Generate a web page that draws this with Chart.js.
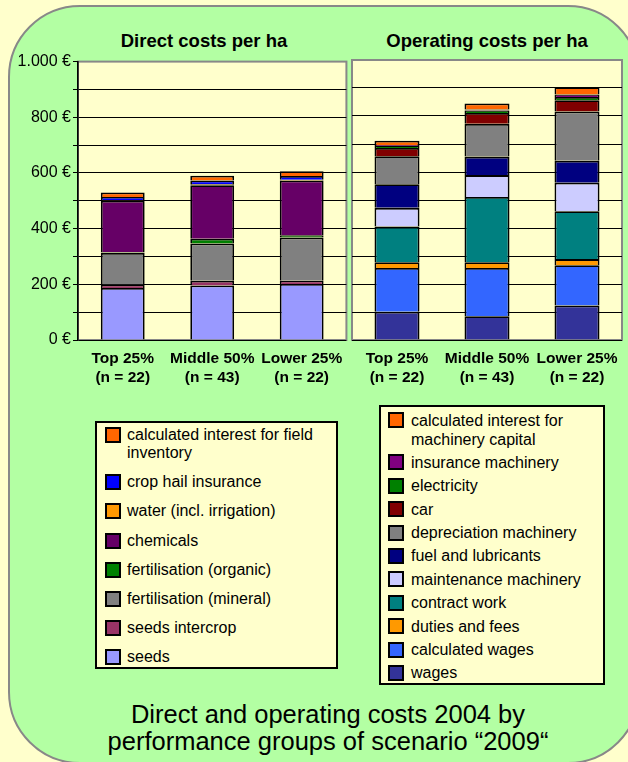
<!DOCTYPE html>
<html>
<head>
<meta charset="utf-8">
<script src="https://cdn.jsdelivr.net/npm/chart.js@4.4.0/dist/chart.umd.min.js"></script>
<style>
  body { margin: 0; background: #FFFFCC; width: 628px; height: 762px; overflow: hidden; position: relative;
         font-family: Arial, "Liberation Sans", sans-serif; }
  .panel { position: absolute; left: 8px; top: 5px; width: 628px; height: 755px; background: #B3FFA3;
           border: 2px solid #888; border-radius: 72px; }
  canvas { position: absolute; }
  .ctitle { position: absolute; font-weight: bold; font-size: 18.5px; line-height: 22px; white-space: nowrap; transform: translateX(-50%); }
  .legend { position: absolute; box-sizing: border-box; background: #FFFFCC; border: 2px solid #000; font-size: 16px; color: #000; }
  .legend .item { display: flex; align-items: flex-start; }
  .legend .sw { flex: none; width: 12px; height: 12px; border: 2px solid #000; }
  #legendLeft { left: 95px; top: 421px; width: 243px; height: 248px; padding: 3px 4px 0 8px; }
  #legendLeft .item { line-height: 18.3px; margin-bottom: 10.8px; }
  #legendLeft .sw { margin: 1px 6px 0 0; }
  #legendRight { left: 379px; top: 405px; width: 226px; height: 280px; padding: 3.5px 4px 0 7px; }
  #legendRight .item { line-height: 19px; margin-bottom: 4.4px; }
  #legendRight .sw { margin: 1.5px 7px 0 0; }
  .caption { position: absolute; left: 0; top: 701px; width: 656px; text-align: center; font-size: 25.5px; line-height: 27px; }
</style>
</head>
<body>
<div class="panel"></div>
<div class="ctitle" style="left:204px;top:30px">Direct costs per ha</div>
<div class="ctitle" style="left:487px;top:30px">Operating costs per ha</div>
<canvas id="direct" width="352" height="340" style="left:0;top:50px"></canvas>
<canvas id="operating" width="283" height="340" style="left:345px;top:50px"></canvas>
<div class="legend" id="legendLeft"></div>
<div class="legend" id="legendRight"></div>
<div class="caption">Direct and operating costs 2004 by<br>performance groups of scenario “2009“</div>
<script>
// groups
const groups = [['Top 25%', '(n = 22)'], ['Middle 50%', '(n = 43)'], ['Lower 25%', '(n = 22)']]

// direct costs (€/ha)
const seeds = [187, 196, 201]
const seedsIntercrop = [12, 17, 12]
const fertMineral = [114, 134, 155]
const fertOrganic = [2, 17, 8]
const chemicals = [185, 192, 197]
const water = [2, 3, 3]
const cropHail = [12, 14, 13]
const interestField = [16, 17, 17]

// operating costs (€/ha)
const wages = [101, 85, 123]
const calcWages = [156, 172, 144]
const duties = [21, 21, 22]
const contractWork = [127, 233, 171]
const maintenance = [67, 78, 102]
const fuel = [84, 66, 78]
const depreciation = [100, 117, 176]
const car = [30, 39, 40]
const electricity = [7, 9, 12]
const insuranceMach = [3, 3, 9]
const interestMach = [16, 22, 26]

const yTicks = [0, 200, 400, 600, 800, 1000]

const FONT = 'Arial, "Liberation Sans", sans-serif'

const directSeries = [
  { label: 'seeds', data: seeds, color: '#9999FF' },
  { label: 'seeds intercrop', data: seedsIntercrop, color: '#993366' },
  { label: 'fertilisation (mineral)', data: fertMineral, color: '#808080' },
  { label: 'fertilisation (organic)', data: fertOrganic, color: '#008000' },
  { label: 'chemicals', data: chemicals, color: '#660066' },
  { label: 'water (incl. irrigation)', data: water, color: '#FF9900' },
  { label: 'crop hail insurance', data: cropHail, color: '#0000FF' },
  { label: 'calculated interest for field inventory', data: interestField, color: '#FF6600' }
]

const operatingSeries = [
  { label: 'wages', data: wages, color: '#333399' },
  { label: 'calculated wages', data: calcWages, color: '#3366FF' },
  { label: 'duties and fees', data: duties, color: '#FF9900' },
  { label: 'contract work', data: contractWork, color: '#008080' },
  { label: 'maintenance machinery', data: maintenance, color: '#CCCCFF' },
  { label: 'fuel and lubricants', data: fuel, color: '#000080' },
  { label: 'depreciation machinery', data: depreciation, color: '#808080' },
  { label: 'car', data: car, color: '#800000' },
  { label: 'electricity', data: electricity, color: '#008000' },
  { label: 'insurance machinery', data: insuranceMach, color: '#800080' },
  { label: 'calculated interest for machinery capital', data: interestMach, color: '#FF6600' }
]

function euro(v) {
  const s = String(v).replace(/\B(?=(\d{3})+(?!\d))/g, '.')
  return s + ' €'
}

// plot background + grey frame
const plotFrame = {
  id: 'plotFrame',
  beforeDraw(chart) {
    const { ctx, chartArea: a } = chart
    ctx.save()
    ctx.fillStyle = '#FFFFCC'
    ctx.fillRect(a.left, a.top, a.right - a.left, a.bottom - a.top)
    ctx.strokeStyle = '#888'
    ctx.lineWidth = 2
    ctx.strokeRect(a.left, a.top, a.right - a.left, a.bottom - a.top)
    ctx.restore()
  }
}

function makeChart(id, series, withAxis, padding, barPct) {
  const datasets = series.map(s => ({
    label: s.label,
    data: s.data,
    backgroundColor: s.color,
    borderColor: '#000',
    borderWidth: 1.8,
    barPercentage: barPct,
    categoryPercentage: 1
  }))
  return new Chart(document.getElementById(id).getContext('2d'), {
    type: 'bar',
    data: { labels: groups, datasets },
    options: {
      responsive: false,
      animation: false,
      layout: { padding },
      plugins: { legend: { display: false }, tooltip: { enabled: false } },
      scales: {
        x: {
          stacked: true,
          grid: { display: false, drawTicks: false },
          border: { display: false },
          ticks: {
            color: '#000', padding: 9, maxRotation: 0, minRotation: 0, autoSkip: false,
            font: { family: FONT, size: 15.5, weight: 'bold', lineHeight: 1.25 }
          },
          afterFit(scale) { scale.height = 50 }
        },
        y: {
          stacked: true,
          min: 0,
          max: 1000,
          ticks: {
            display: withAxis,
            stepSize: 100,
            autoSkip: false,
            color: '#000',
            padding: 2,
            font: { family: FONT, size: 16 },
            callback: v => yTicks.includes(v) ? euro(v) : ''
          },
          grid: {
            color: c => (c.tick && c.tick.value === 1000) ? '#888' : '#000',
            lineWidth: 1,
            drawTicks: withAxis,
            tickLength: 5,
            tickColor: '#000'
          },
          border: { display: withAxis, color: '#000', width: 1.6 },
          afterFit(scale) { scale.width = withAxis ? 78 : 0 }
        }
      }
    },
    plugins: [plotFrame]
  })
}

const directChart = makeChart('direct', directSeries, true, { top: 10, right: 5, left: 0, bottom: 0 }, 0.49)
const operatingChart = makeChart('operating', operatingSeries, false, { top: 10, right: 6, left: 7, bottom: 0 }, 0.5)

function buildLegend(chart, elId) {
  const el = document.getElementById(elId)
  chart.data.datasets.slice().reverse().forEach(ds => {
    const item = document.createElement('div')
    item.className = 'item'
    const sw = document.createElement('span')
    sw.className = 'sw'
    sw.style.background = ds.backgroundColor
    const txt = document.createElement('span')
    txt.textContent = ds.label
    item.appendChild(sw)
    item.appendChild(txt)
    el.appendChild(item)
  })
}

buildLegend(directChart, 'legendLeft')
buildLegend(operatingChart, 'legendRight')
</script>
</body>
</html>
